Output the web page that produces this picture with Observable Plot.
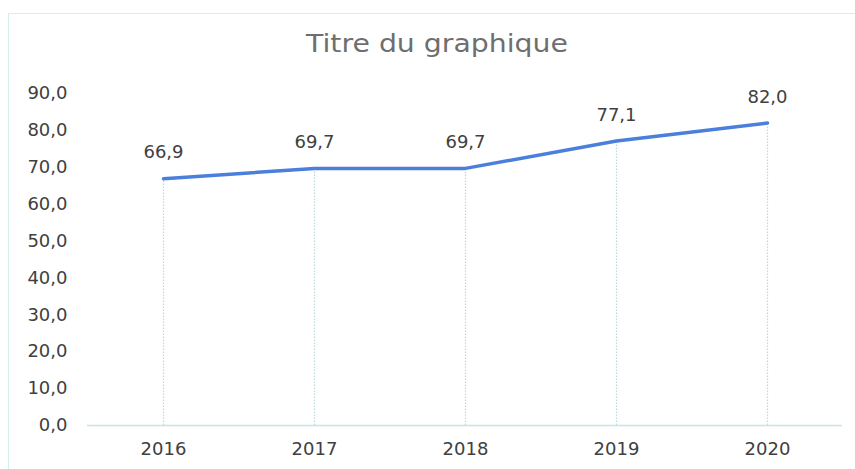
<!DOCTYPE html>
<html>
<head>
<meta charset="utf-8">
<script src="https://cdn.jsdelivr.net/npm/d3@7"></script>
<script src="https://cdn.jsdelivr.net/npm/@observablehq/plot@0.6"></script>
<style>
  html, body { margin: 0; padding: 0; background: #ffffff; }
  #wrap { position: relative; width: 855px; height: 469px; overflow: hidden; }
  #frame { position: absolute; left: 8px; top: 13px; width: 900px; height: 500px;
           border-left: 1.5px solid #d2efec; border-top: 1.5px solid #d2efec; box-sizing: border-box; }
  #titlebox { position: relative; width: 855px; height: 70px; }
  #title { position: absolute; left: 437px; top: 32px; white-space: nowrap;
           font-family: "DejaVu Sans", sans-serif; font-size: 24px; line-height: 24px;
           color: #6e6e6e; transform: translateX(-50%) scaleX(1.18); }
</style>
</head>
<body>
<div id="wrap">
  <div id="frame"></div>
  <div id="titlebox"><div id="title">Titre du graphique</div></div>
  <div id="chart"></div>
</div>
<script>
const years = ["2016", "2017", "2018", "2019", "2020"];
const values = [66.9, 69.7, 69.7, 77.1, 82.0];
const yTicks = [0, 10, 20, 30, 40, 50, 60, 70, 80, 90];

const data = years.map((year, i) => ({year, value: values[i]}));
const fmt = d => d.toFixed(1).replace(".", ",");

const chart = Plot.plot({
  width: 855,
  height: 399,
  marginTop: 23,
  marginBottom: 44,
  marginLeft: 87,
  marginRight: 13,
  style: {fontFamily: "DejaVu Sans, sans-serif", fontSize: "18px", color: "#404040", background: "transparent", overflow: "visible"},
  x: {type: "point", domain: years, padding: 0.5, label: null, tickSize: 0, tickPadding: 17},
  y: {domain: [0, 90], ticks: yTicks, tickFormat: fmt, label: null, tickSize: 0, tickPadding: 20},
  marks: [
    Plot.ruleX(data, {x: "year", y1: 0, y2: "value", stroke: "#b9d9dd", strokeWidth: 1.2, strokeDasharray: "1.5,1.5"}),
    Plot.ruleY([0], {stroke: "#c2e8de", strokeWidth: 1.5}),
    Plot.line(data, {x: "year", y: "value", stroke: "#4b7fdc", strokeWidth: 3.5, strokeLinecap: "round", strokeLinejoin: "round"}),
    Plot.text(data, {x: "year", y: "value", text: d => fmt(d.value), dy: -26, fill: "#404040"})
  ]
});
document.getElementById("chart").appendChild(chart);
</script>
</body>
</html>
